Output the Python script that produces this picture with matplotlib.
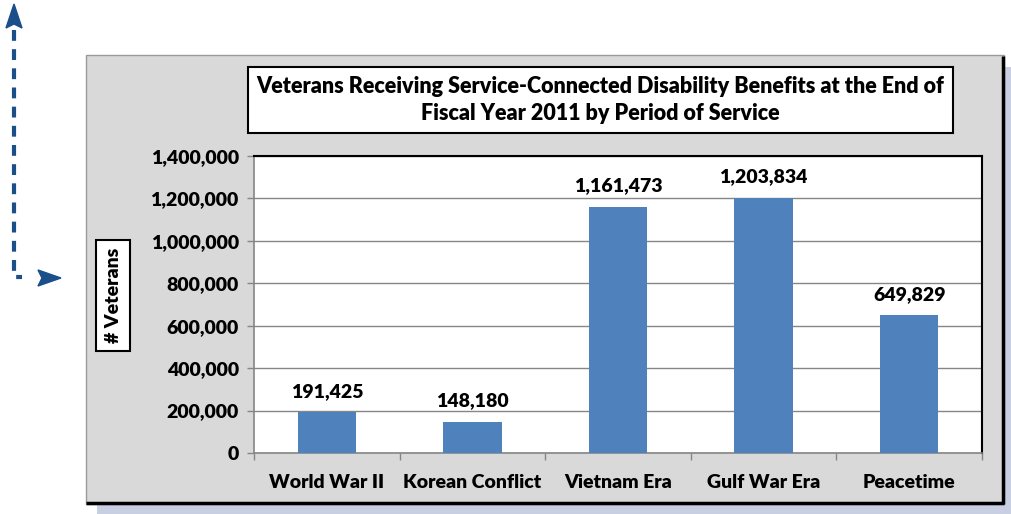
import matplotlib
matplotlib.use("Agg")
import matplotlib.pyplot as plt
from matplotlib.patches import Rectangle, Polygon
from matplotlib.lines import Line2D
from matplotlib.ticker import FuncFormatter, MultipleLocator

categories = ["World War II", "Korean Conflict", "Vietnam Era", "Gulf War Era", "Peacetime"]
values = [191425, 148180, 1161473, 1203834, 649829]
title = "Veterans Receiving Service-Connected Disability Benefits at the End of\nFiscal Year 2011 by Period of Service"
ylabel = "# Veterans"

W, H = 1012, 514
FONT = "Lato"
WEIGHT = "heavy"
plt.rcParams['font.family'] = [FONT, 'DejaVu Sans']
fig = plt.figure(figsize=(W / 100, H / 100), dpi=100)

def fx(x):
    return x / W

def fy(y):
    return 1 - y / H

def frect(x0, y0, x1, y1, **kw):
    r = Rectangle((fx(x0), fy(y1)), fx(x1) - fx(x0), fy(y0) - fy(y1),
                  transform=fig.transFigure, **kw)
    fig.add_artist(r)
    return r

# shadow and panel
frect(97, 67, 1012, 514, facecolor="#c9cfe3", edgecolor="none", zorder=0)
frect(86, 55, 1004, 504, facecolor="#d9d9d9", edgecolor="#9a9a9a", lw=1.0, zorder=1)
fig.add_artist(Line2D([fx(86), fx(1004)], [fy(503), fy(503)], transform=fig.transFigure,
                      color="black", lw=2.5, zorder=2, solid_capstyle="butt"))
fig.add_artist(Line2D([fx(1003), fx(1003)], [fy(56), fy(504)], transform=fig.transFigure,
                      color="black", lw=2.5, zorder=2, solid_capstyle="butt"))

# title box
frect(248, 67, 953, 133, facecolor="white", edgecolor="black", lw=1.5, zorder=3)
fig.text(fx(600), fy(100), title, ha="center", va="center", fontsize=15.5,
         fontweight=WEIGHT, linespacing=1.3, zorder=4)

# y label box
frect(96, 240, 130, 351, facecolor="white", edgecolor="black", lw=1.5, zorder=3)
fig.text(fx(113.5), fy(295.5), ylabel, ha="center", va="center", rotation=90,
         fontsize=14, fontweight=WEIGHT, zorder=4)

# axes
ax = fig.add_axes([fx(254), fy(453), fx(982) - fx(254), fy(156) - fy(453)], zorder=5)
ax.set_facecolor("white")
x = list(range(len(categories)))
bars = ax.bar(x, values, width=0.4, color="#4f81bd", zorder=3)
ax.set_xlim(-0.5, len(categories) - 0.5)
ax.set_ylim(0, 1400000)
ax.yaxis.set_major_locator(MultipleLocator(200000))
ax.yaxis.set_major_formatter(FuncFormatter(lambda v, p: f"{int(v):,}"))
ax.grid(axis="y", color="#868686", lw=1.0, zorder=0)
ax.set_axisbelow(True)
ax.set_xticks(x)
ax.set_xticklabels(categories)
ax.tick_params(axis="x", length=0, pad=15, labelsize=14)
ax.set_xticks([i + 0.5 for i in range(-1, len(categories))], minor=True)
ax.tick_params(axis="x", which="minor", length=5, color="#868686", width=1.0, direction="out")
ax.tick_params(axis="y", length=5, color="#868686", width=1.0, labelsize=14, pad=6)
for lab in ax.get_xticklabels() + ax.get_yticklabels():
    lab.set_fontweight(WEIGHT)
for s in ["left", "bottom"]:
    ax.spines[s].set_color("#868686")
    ax.spines[s].set_linewidth(1.2)
for s in ["top", "right"]:
    ax.spines[s].set_color("black")
    ax.spines[s].set_linewidth(1.5)
for b, v in zip(bars, values):
    ax.annotate(f"{v:,}", (b.get_x() + b.get_width() / 2, v), xytext=(0, 9),
                textcoords="offset points", ha="center", va="bottom",
                fontsize=14, fontweight=WEIGHT)

# dashed arrow
col = "#1b4f8a"
fig.add_artist(Line2D([fx(14), fx(14), fx(22)], [fy(30), fy(277), fy(277)],
                      transform=fig.transFigure, color=col, lw=3,
                      linestyle=(0, (2.6, 2.0)), zorder=2))
fig.add_artist(Polygon([(fx(14), fy(4)), (fx(6), fy(28)), (fx(14), fy(24)), (fx(22), fy(28))],
                       closed=True, transform=fig.transFigure, facecolor=col,
                       edgecolor=col, zorder=2))
fig.add_artist(Polygon([(fx(61), fy(278)), (fx(38), fy(270)), (fx(42), fy(278)), (fx(38), fy(286))],
                       closed=True, transform=fig.transFigure, facecolor=col,
                       edgecolor=col, zorder=2))

fig.savefig("out.png", dpi=100)
